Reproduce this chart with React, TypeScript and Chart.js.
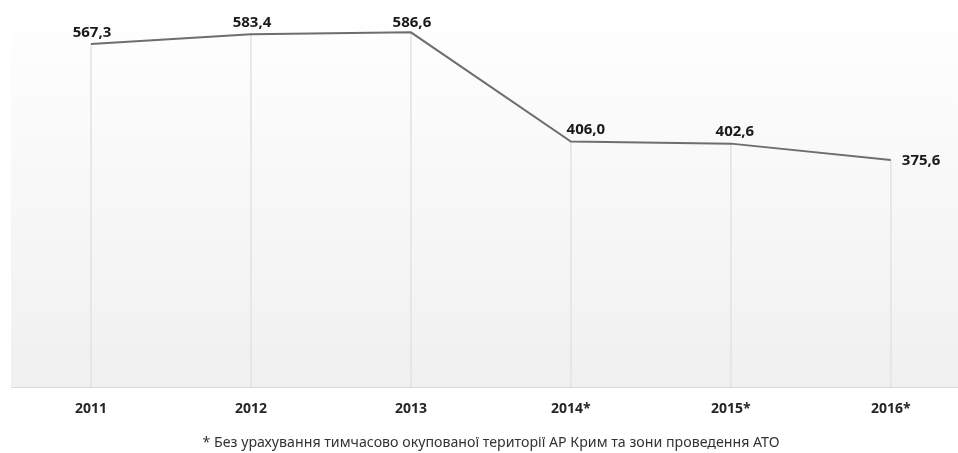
import React, { useEffect, useRef } from "react";
import { Chart, registerables } from "chart.js";

Chart.register(...registerables);

const categories = ["2011", "2012", "2013", "2014*", "2015*", "2016*"];
const values = [567.3, 583.4, 586.6, 406.0, 402.6, 375.6];
const valueLabels = ["567,3", "583,4", "586,6", "406,0", "402,6", "375,6"];
const footnote = "* Без урахування тимчасово окупованої території АР Крим та зони проведення АТО";

// label placement (style only): [dx, dy, align]
const labelPlacement: [number, number, CanvasTextAlign][] = [
  [1, -11, "center"],
  [1, -12, "center"],
  [1, -10, "center"],
  [15, -12, "center"],
  [4, -12, "center"],
  [11, 1, "left"],
];

const bgPlugin = {
  id: "bgGradient",
  beforeDraw(chart: any) {
    const { ctx, chartArea } = chart;
    const g = ctx.createLinearGradient(0, chartArea.top, 0, chartArea.bottom);
    g.addColorStop(0, "#ffffff");
    g.addColorStop(1, "#f0f0f0");
    ctx.save();
    ctx.fillStyle = g;
    ctx.fillRect(chartArea.left, chartArea.top, chartArea.right - chartArea.left, chartArea.bottom - chartArea.top);
    ctx.restore();
  },
};

const labelPlugin = {
  id: "valueLabels",
  afterDatasetsDraw(chart: any) {
    const meta = chart.getDatasetMeta(0);
    const ctx = chart.ctx;
    ctx.save();
    ctx.font = "bold 15px 'Noto Sans'";
    ctx.fillStyle = "#1a1a1a";
    ctx.textBaseline = "middle";
    meta.data.forEach((pt: any, i: number) => {
      const [dx, dy, align] = labelPlacement[i];
      ctx.textAlign = align;
      ctx.fillText(valueLabels[i], pt.x + dx, pt.y + dy);
    });
    ctx.restore();
  },
  afterDraw(chart: any) {
    const ctx = chart.ctx;
    ctx.save();
    ctx.font = "14.2px 'Noto Sans'";
    ctx.fillStyle = "#333333";
    ctx.textAlign = "center";
    ctx.textBaseline = "middle";
    ctx.fillText(footnote, 491, 443);
    ctx.restore();
  },
};

export default function App() {
  const ref = useRef<HTMLCanvasElement>(null);
  useEffect(() => {
    document.body.style.margin = "0";
    const pts = values.map((v, i) => ({ x: i, y: v }));
    const chart = new Chart(ref.current!, {
      type: "line",
      data: {
        datasets: [
          {
            type: "line",
            data: pts,
            borderColor: "#6e6e6e",
            borderWidth: 2,
            pointRadius: 0,
            tension: 0,
            order: 0,
          } as any,
          {
            type: "bar",
            data: pts,
            backgroundColor: "#e4e4e4",
            barThickness: 1,
            order: 1,
          } as any,
        ],
      },
      options: {
        animation: false,
        responsive: false,
        maintainAspectRatio: false,
        layout: { padding: { left: 11, right: 0, top: 0, bottom: 23 } },
        plugins: {
          legend: { display: false },
          tooltip: { enabled: false },
          title: { display: false },
        },
        scales: {
          x: {
            type: "linear",
            min: -0.5,
            max: 5.42,
            offset: false,
            bounds: "ticks",
            grid: { display: false, drawTicks: false, offset: false },
            border: { display: true, color: "#d9d9d9", width: 1 },
            afterBuildTicks: (scale: any) => {
              scale.ticks = categories.map((_, i) => ({ value: i }));
            },
            ticks: {
              autoSkip: false,
              maxRotation: 0,
              padding: 13,
              color: "#262626",
              font: { family: "'Noto Sans'", size: 14, weight: "bold" },
              callback: (v: any) => categories[v as number] ?? "",
            },
          },
          y: {
            display: false,
            min: 0,
            max: 640,
          },
        },
      },
      plugins: [bgPlugin, labelPlugin],
    });
    return () => chart.destroy();
  }, []);
  return <canvas ref={ref} width={958} height={453} style={{ display: "block" }} />;
}
